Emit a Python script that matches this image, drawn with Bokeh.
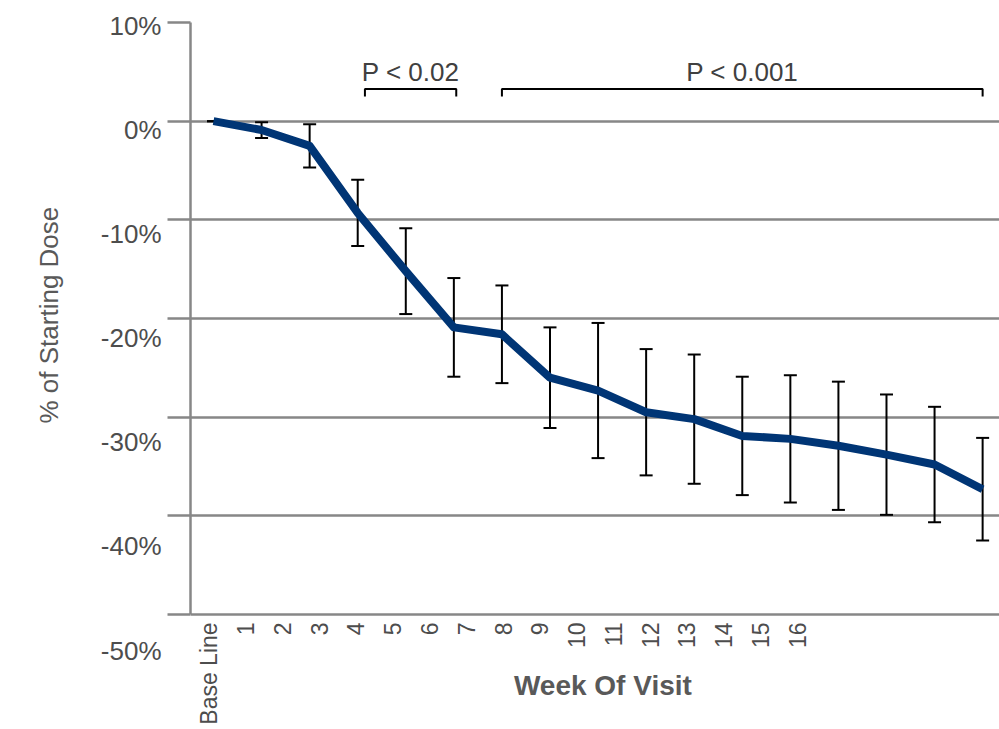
import math
from bokeh.plotting import figure
from bokeh.models import (Range1d, LinearAxis, FixedTicker, Grid, ColumnDataSource,
                          Span, Title)
from bokeh.core.properties import value
from bokeh.embed import file_html
from bokeh.resources import INLINE

# ---------------- data ----------------
week_labels = ["Base Line", "1", "2", "3", "4", "5", "6", "7", "8", "9",
               "10", "11", "12", "13", "14", "15", "16"]
visit_index = list(range(17))
mean_pct = [0.0, -0.9, -2.5, -9.3, -15.2, -20.9, -21.6, -26.0, -27.3,
            -29.5, -30.2, -31.9, -32.2, -32.9, -33.8, -34.8, -37.3]
err_pct = [0.0, 0.8, 2.2, 3.35, 4.35, 5.0, 4.95, 5.1, 6.85,
           6.4, 6.55, 6.0, 6.45, 6.5, 6.1, 5.85, 5.2]

y_ticks = [10, 0, -10, -20, -30, -40, -50]
y_tick_labels = ["10%", "0%", "-10%", "-20%", "-30%", "-40%", "-50%"]
grid_values = [0, -10, -20, -30, -40]

p_labels = ["P < 0.02", "P < 0.001"]
bracket_start = [3.15, 6.0]
bracket_end = [5.05, 16.0]

# ---------------- styles ----------------
FONT = "Liberation Sans"
GRAY = "#878787"
TXT = "#4d4d4d"
LINE_BLUE = "#003575"

lower = [m - e for m, e in zip(mean_pct, err_pct)]
upper = [m + e for m, e in zip(mean_pct, err_pct)]

X0, X1 = -0.4785, 16.351
Y0, Y1 = -61.655, 10
p = figure(width=999, height=729,
           x_range=Range1d(X0, X1), y_range=Range1d(Y0, Y1),
           output_backend="svg", toolbar_location=None,
           x_axis_location=None, y_axis_location=None,
           min_border_left=190, min_border_right=0,
           min_border_top=22, min_border_bottom=0)
p.outline_line_color = None
p.xgrid.visible = False
p.ygrid.visible = False

n_slots = 22
p.extra_x_ranges = {"xlab": Range1d(0, n_slots)}
p.extra_y_ranges = {"ylab": Range1d(-57.58, 10.288)}

# grid
p.add_layout(Grid(dimension=1, ticker=FixedTicker(ticks=grid_values),
                  grid_line_color=GRAY, grid_line_width=2.5))

# y axis: ticks and line
yaxis = LinearAxis(ticker=FixedTicker(ticks=y_ticks), bounds=(-50, 10),
                   major_label_overrides={t: "" for t in y_ticks},
                   major_label_standoff=0,
                   major_tick_out=23, major_tick_in=0,
                   major_tick_line_color=GRAY, major_tick_line_width=2.5,
                   minor_tick_line_color=None,
                   axis_line_color=GRAY, axis_line_width=2.5)
p.add_layout(yaxis, "left")

# y axis: tick labels
ylab_axis = LinearAxis(y_range_name="ylab", ticker=FixedTicker(ticks=y_ticks),
                       major_label_overrides={t: s for t, s in zip(y_ticks, y_tick_labels)},
                       major_label_standoff=6,
                       major_label_text_font=FONT,
                       major_label_text_font_size="26px",
                       major_label_text_color=TXT,
                       major_tick_out=0, major_tick_in=0,
                       major_tick_line_color=None, minor_tick_line_color=None,
                       axis_line_color=None)
p.add_layout(ylab_axis, "left")

# y axis title
p.add_layout(Title(text="% of Starting Dose", align="left", offset=306,
                   vertical_align="top", standoff=64,
                   text_font=FONT, text_font_size="26px",
                   text_font_style="normal", text_color="#595959"), "left")

# x axis line
p.add_layout(Span(location=-50, dimension="width", line_color=GRAY, line_width=2.5))

# x tick labels
xt = [k + 0.5 for k in range(len(week_labels))]
p.text(x=xt, y=[-50.8] * len(xt), text=week_labels, x_range_name="xlab",
       angle=math.pi / 2, text_align="right", text_baseline="middle",
       text_font=value(FONT), text_font_size="23px", text_color=TXT)

# error bars
src = ColumnDataSource(dict(x=visit_index, m=mean_pct, lo=lower, hi=upper))
p.segment(x0="x", y0="lo", x1="x", y1="hi", source=src,
          line_color="black", line_width=2)
p.scatter(x="x", y="lo", source=src, marker="dash", size=13,
          line_color="black", line_width=2)
p.scatter(x="x", y="hi", source=src, marker="dash", size=13,
          line_color="black", line_width=2)

# mean line
p.line(x="x", y="m", source=src, line_color=LINE_BLUE, line_width=8,
       line_join="round")

# brackets and p-values
bx = [[s, s, e, e] for s, e in zip(bracket_start, bracket_end)]
by = [[2.5, 3.25, 3.25, 2.5] for _ in bracket_start]
p.multi_line(xs=bx, ys=by, line_color="black", line_width=2)
ptext_x = [(s + e) / 2 for s, e in zip(bracket_start, bracket_end)]
p.text(x=ptext_x, y=[5.0] * len(ptext_x), text=p_labels,
       text_align="center", text_baseline="middle",
       text_font=value(FONT), text_font_size="26px", text_color="#404040")

# x title
p.text(x=[8.1], y=[-57.2], text=["Week Of Visit"],
       text_align="center", text_baseline="middle",
       text_font=value(FONT), text_font_size="28px",
       text_font_style="bold", text_color="#595959")

open("out.html", "w").write(file_html(p, INLINE))
